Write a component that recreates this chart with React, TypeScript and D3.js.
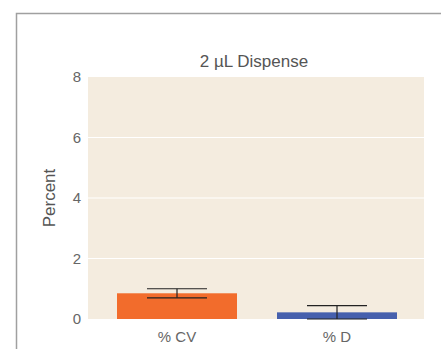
import React from 'react';
import * as d3 from 'd3';

const categories = ['% CV', '% D'];
const values = [0.85, 0.22];
const errors = [0.15, 0.22];
const colors = ['#F26C2C', '#4660AD'];
const yTicks = [0, 2, 4, 6, 8];

const W = 441, H = 349;
const plot = { left: 88, right: 424, top: 77, bottom: 319 };

export default function App() {
  const x = d3.scaleBand<string>()
    .domain(categories)
    .range([93, 421])
    .paddingInner(0.25)
    .paddingOuter(0.15);
  const y = d3.scaleLinear().domain([0, 8]).range([plot.bottom, plot.top]);
  const bw = x.bandwidth();
  const font = '"Liberation Sans", Arial, sans-serif';

  return (
    <svg width={W} height={H} style={{ position: 'absolute', left: 0, top: 0 }} fontFamily={font}>
      <rect width={W} height={H} fill="#fff" />
      <path d={`M16.5,${H} V13.5 H${W}`} fill="none" stroke="#a0a0a0" strokeWidth={1.5} />
      <rect x={plot.left} y={plot.top} width={plot.right - plot.left} height={plot.bottom - plot.top} fill="#F4ECDF" />
      {yTicks.slice(1, -1).map(t => (
        <line key={t} x1={plot.left} x2={plot.right} y1={y(t)} y2={y(t)} stroke="#fff" strokeWidth={1.2} />
      ))}
      {yTicks.map(t => (
        <text key={t} x={81} y={y(t)} dy="0.35em" textAnchor="end" fontSize={15} fill="#666">{t}</text>
      ))}
      {categories.map((c, i) => {
        const x0 = x(c)!;
        const cx = x0 + bw / 2;
        const v = values[i];
        const e = errors[i];
        return (
          <g key={c}>
            <rect x={x0} y={y(v)} width={bw} height={y(0) - y(v)} fill={colors[i]} />
            <line x1={cx} x2={cx} y1={y(v + e)} y2={y(v - e)} stroke="#222" strokeWidth={1.2} />
            <line x1={cx - bw / 4} x2={cx + bw / 4} y1={y(v + e)} y2={y(v + e)} stroke="#222" strokeWidth={1.2} />
            <line x1={cx - bw / 4} x2={cx + bw / 4} y1={y(v - e)} y2={y(v - e)} stroke="#222" strokeWidth={1.2} />
            <text x={cx} y={342} textAnchor="middle" fontSize={15} fill="#666">{c}</text>
          </g>
        );
      })}
      <text x={254} y={67} textAnchor="middle" fontSize={17} fill="#555">2 µL Dispense</text>
      <text transform={`translate(55,${(plot.top + plot.bottom) / 2}) rotate(-90)`} textAnchor="middle" fontSize={17} fill="#555">Percent</text>
    </svg>
  );
}
